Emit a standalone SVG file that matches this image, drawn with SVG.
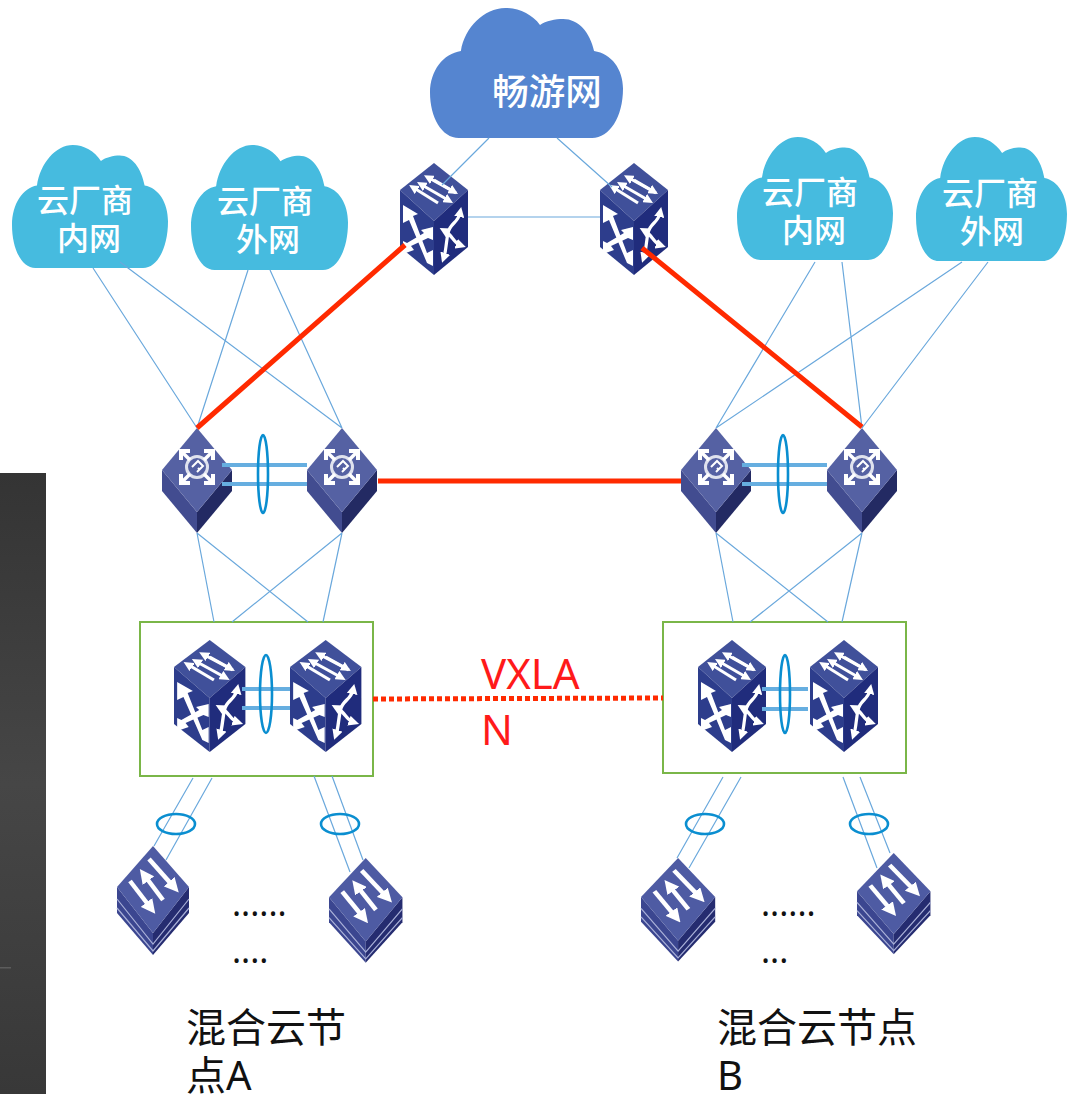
<svg xmlns="http://www.w3.org/2000/svg" width="1067" height="1094" viewBox="0 0 1067 1094">
<style>
text{font-family:"Noto Sans","Noto Sans CJK SC",sans-serif}
.cl{font-size:32px;fill:#fff;text-anchor:middle;font-weight:500}
.lbl{font-size:40px;fill:#111}
.dots{font-size:34px;fill:#111}
.red{font-size:42px;fill:#ff1a1a}
.thin{stroke:#6aa8dc;stroke-width:1.2;fill:none}
.thick{stroke:#ff2a00;stroke-width:5;fill:none}
.lag{stroke:#66aee0;stroke-width:4;fill:none}
.ring{stroke:#0a8ed0;stroke-width:2.6;fill:none}
.box{fill:none;stroke:#7ab648;stroke-width:2}
.w{fill:none;stroke:#fff;stroke-linejoin:miter}
.f{fill:#fff}
</style>
<defs>
<linearGradient id="dark" x1="0" y1="0" x2="0" y2="1"><stop offset="0" stop-color="#343434"/><stop offset="0.5" stop-color="#464646"/><stop offset="1" stop-color="#383838"/></linearGradient>
<marker id="ah" viewBox="0 0 10 10" refX="4" refY="5" markerWidth="3.2" markerHeight="3.2" orient="auto-start-reverse"><path d="M0,0 L10,5 L0,10 Z" fill="#fff"/></marker>
<path id="cloud" d="M15,100 C6,100 0,84 0,65 C0,48 7,35 16,33 C18,15 28,0 39,0 C46,0 53,5 57,13 C60,10 65,8.5 69,8.5 C77,8.5 83,19 85,33 C94,35 100,47 100,62 C100,84 93,100 84,100 Z"/>
<g id="router">
<polygon points="34,2 68,29 34,60 0,29" fill="#40509a"/>
<polygon points="0,29 34,60 34,114 0,86" fill="#2d3d8c"/>
<polygon points="68,29 34,60 34,114 68,86" fill="#202c7c"/>
<g class="w" stroke-width="3">
<path d="M29,17 L56,32" marker-start="url(#ah)"/>
<path d="M22,24 L48,39" marker-start="url(#ah)" marker-end="url(#ah)"/>
<path d="M14,27 L38,42" marker-start="url(#ah)"/>
<path d="M34,19 L53,30" marker-end="url(#ah)"/>
</g>
<path class="f" d="M3,44 L3,62 L9,59 L27,102 L33,105 L33,89 L27,92 L13,55 L18,53 Z"/>
<path class="f" d="M33,66 L33,79 L28,77 L11,85 L14,89 L3,93 L3,80 L7,82 L24,72 L21,69 Z"/>
<g class="w" stroke-width="3.2">
<path d="M60,52 C58,62 50,62 48,72 C46,82 46,90 44,96" marker-start="url(#ah)" marker-end="url(#ah)"/>
<path d="M45,70 C52,74 54,82 60,84" marker-start="url(#ah)" marker-end="url(#ah)"/>
</g>
</g>
<g id="core">
<polygon points="0,42 35,84 35,105 0,63" fill="#424c90"/>
<polygon points="70,42 35,84 35,105 70,63" fill="#232a63"/>
<polygon points="35,0 70,42 35,84 0,42" fill="#5561a3"/>
<g class="w" stroke-width="3">
<circle cx="35" cy="39" r="10.5" stroke="#dfe2ee"/>
<path d="M28,32 L20,24 M42,32 L50,24 M28,46 L20,54 M42,46 L50,54" stroke-width="3.5"/>
<path d="M19,32 L19,23 L28,23 M42,23 L51,23 L51,32 M19,46 L19,55 L28,55 M42,55 L51,55 L51,46" stroke-width="4"/>
<path d="M30,39 L36,33 L41,38 L35,44 M36,40 L38,42" stroke-width="2"/>
</g>
</g>
<g id="access">
<polygon points="0,41 36,87 36,109 0,67" fill="#3b4690"/>
<polygon points="72,41 36,87 36,109 72,67" fill="#252c70"/>
<path d="M0,53 L36,98 L72,53 M0,62 L36,105 L72,62" fill="none" stroke="#a9b0d8" stroke-width="1.2"/>
<polygon points="36,0 72,41 36,87 0,41" fill="#4e5ba3"/>
<g class="w" stroke-width="4.5">
<path d="M32,13 L56,40" marker-end="url(#ah)"/>
<path d="M13,35 L33,61" marker-end="url(#ah)"/>
<path d="M46,54 L28,30" marker-end="url(#ah)"/>
</g>
</g>
</defs>

<rect id="backdrop" x="0" y="473" width="46" height="621" fill="url(#dark)"/>
<rect x="0" y="967" width="11" height="1.5" fill="#5c5c5c"/>

<g id="cloud-top"><use href="#cloud" transform="translate(430,8) scale(1.93,1.3)" fill="#5585d0"/><text x="547" y="105" font-size="36.5" font-weight="500" fill="#fff" text-anchor="middle">畅游网</text></g>
<g id="cloud-a1"><use href="#cloud" transform="translate(12,145) scale(1.56,1.23)" fill="#46bbdf"/><text class="cl" x="85" y="212">云厂商</text><text class="cl" x="89" y="250">内网</text></g>
<g id="cloud-a2"><use href="#cloud" transform="translate(191,145) scale(1.57,1.25)" fill="#46bbdf"/><text class="cl" x="265" y="213">云厂商</text><text class="cl" x="268" y="251">外网</text></g>
<g id="cloud-b1"><use href="#cloud" transform="translate(737,137) scale(1.56,1.23)" fill="#46bbdf"/><text class="cl" x="810" y="204">云厂商</text><text class="cl" x="814" y="242">内网</text></g>
<g id="cloud-b2"><use href="#cloud" transform="translate(916,137) scale(1.51,1.24)" fill="#46bbdf"/><text class="cl" x="990" y="205">云厂商</text><text class="cl" x="992" y="243">外网</text></g>

<g id="router-1"><use href="#router" transform="translate(400,161)"/></g>
<g id="router-2"><use href="#router" transform="translate(600,161)"/></g>

<g id="core-a1"><use href="#core" transform="translate(162,428)"/></g>
<g id="core-a2"><use href="#core" transform="translate(307,428)"/></g>
<g id="core-b1"><use href="#core" transform="translate(681,428)"/></g>
<g id="core-b2"><use href="#core" transform="translate(827,428)"/></g>

<g id="box-a"><rect class="box" x="140" y="622" width="233" height="154"/></g>
<g id="box-b"><rect class="box" x="663" y="622" width="243" height="151"/></g>
<g id="switch-a1"><use href="#router" transform="translate(174,638) scale(1.05,1.0)"/></g>
<g id="switch-a2"><use href="#router" transform="translate(290,638) scale(1.05,1.0)"/></g>
<g id="switch-b1"><use href="#router" transform="translate(698,638)"/></g>
<g id="switch-b2"><use href="#router" transform="translate(810,638)"/></g>

<g id="access-a1"><use href="#access" transform="translate(117,846)"/></g>
<g id="access-a2"><use href="#access" transform="translate(329,858) scale(1.02,0.96)"/></g>
<g id="access-b1"><use href="#access" transform="translate(641,858) scale(1.03,0.95)"/></g>
<g id="access-b2"><use href="#access" transform="translate(857,853) scale(1.02,0.93)"/></g>

<g id="connectors">
<path class="thin" d="M489,138 L442,185 M557,138 L612,187 M468,217 L600,217"/>
<path class="thin" d="M93,268 L197,428 M120,262 L342,428 M248,270 L197,428 M270,270 L342,428"/>
<path class="thin" d="M815,262 L716,428 M842,262 L862,428 M962,262 L716,428 M988,262 L862,428"/>
<path class="thin" d="M197,533 L214,622 M197,533 L308,622 M342,533 L232,622 M342,533 L323,622"/>
<path class="thin" d="M716,533 L733,622 M716,533 L828,622 M862,533 L750,622 M862,533 L842,622"/>
<path class="thin" d="M193,778 L154,846 M212,778 L166,860 M314,776 L350,872 M332,776 L363,860"/>
<path class="thin" d="M723,777 L677,858 M741,777 L689,868 M843,777 L877,868 M860,777 L890,853"/>
<path class="thick" d="M197,428 L405,245 M642,248 L862,427 M378,481 L681,481"/>
<path class="thick" stroke-dasharray="5 3" d="M373,699 L663,698"/>
<path class="lag" d="M222,465 H307 M222,484 H307 M742,465 H827 M742,484 H827"/>
<path class="lag" d="M242,689 H290 M242,708 H290 M762,689 H808 M762,709 H808"/>
</g>
<g id="rings">
<ellipse class="ring" cx="263" cy="474" rx="5" ry="39"/>
<ellipse class="ring" cx="783" cy="474" rx="5" ry="39"/>
<ellipse class="ring" cx="266" cy="694" rx="6" ry="39"/>
<ellipse class="ring" cx="785" cy="694" rx="5" ry="39"/>
<ellipse class="ring" cx="176" cy="824" rx="19" ry="10"/>
<ellipse class="ring" cx="340" cy="824" rx="19" ry="10"/>
<ellipse class="ring" cx="705" cy="824" rx="19" ry="10"/>
<ellipse class="ring" cx="869" cy="824" rx="19" ry="10"/>
</g>

<g id="labels">
<text class="red" x="481" y="689">VXLA</text>
<text class="red" x="481" y="745">N</text>
<text class="dots" x="232" y="916">......</text>
<text class="dots" x="232" y="963">....</text>
<text class="dots" x="761" y="916">......</text>
<text class="dots" x="761" y="963">...</text>
<text class="lbl" x="186" y="1042">混合云节</text>
<text class="lbl" x="186" y="1090">点A</text>
<text class="lbl" x="717" y="1042">混合云节点</text>
<text class="lbl" x="717" y="1090">B</text>
</g>
</svg>
